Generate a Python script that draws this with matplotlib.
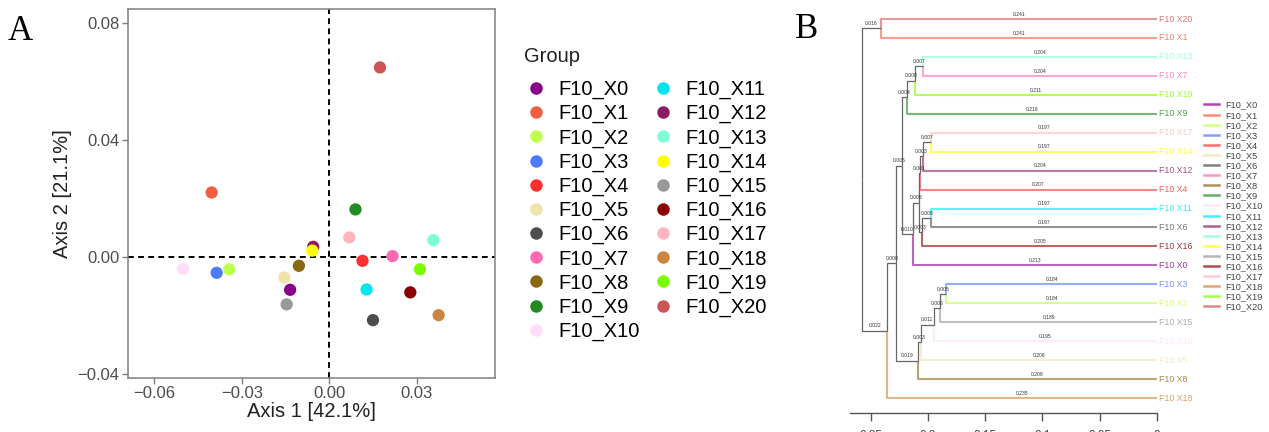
import matplotlib
matplotlib.use("Agg")
import matplotlib.pyplot as plt
from matplotlib.lines import Line2D
import numpy as np

plt.rcParams['font.family'] = ['Liberation Sans', 'DejaVu Sans']

# ---- panel A: PCoA scatter ----
groups = ['F10_X%d' % i for i in range(21)]
colors = ['#8B008B', '#EE6040', '#BFFF50', '#4C7BFF', '#FF3030', '#EEE3A8',
          '#4D4D4D', '#FF69B4', '#8B6914', '#228B22', '#FFDDF8', '#00E5EE',
          '#8B1C62', '#7FFFD4', '#FFFF00', '#999999', '#8B0000', '#FFB6C1',
          '#CD853F', '#7CFC00', '#CD5555']
axis1 = [-0.0134, -0.0403, -0.0343, -0.0386, 0.0114, -0.0154, 0.0150, 0.0217,
         -0.0104, 0.0090, -0.0501, 0.0128, -0.0055, 0.0357, -0.0058, -0.0146,
         0.0278, 0.0069, 0.0375, 0.0311, 0.0174]
axis2 = [-0.0113, 0.0220, -0.0043, -0.0055, -0.0014, -0.0071, -0.0217, 0.0002,
         -0.0031, 0.0162, -0.0041, -0.0112, 0.0034, 0.0057, 0.0021, -0.0163,
         -0.0122, 0.0066, -0.0200, -0.0043, 0.0648]

# ---- panel B: UPGMA tree ----
leaf_order = ['F10_X20', 'F10_X1', 'F10_X13', 'F10_X7', 'F10_X19', 'F10_X9',
              'F10_X17', 'F10_X14', 'F10_X12', 'F10_X4', 'F10_X11', 'F10_X6',
              'F10_X16', 'F10_X0', 'F10_X3', 'F10_X2', 'F10_X15', 'F10_X10',
              'F10_X5', 'F10_X8', 'F10_X18']
# (node, child1, child2, height)
merges = [
    ('A', 'F10_X20', 'F10_X1', 0.2412),
    ('B', 'F10_X13', 'F10_X7', 0.204),
    ('C', 'B', 'F10_X19', 0.211),
    ('D', 'C', 'F10_X9', 0.2186),
    ('E', 'F10_X17', 'F10_X14', 0.197),
    ('F', 'E', 'F10_X12', 0.204),
    ('G', 'F', 'F10_X4', 0.207),
    ('I', 'F10_X11', 'F10_X6', 0.197),
    ('J', 'I', 'F10_X16', 0.205),
    ('K', 'G', 'J', 0.208),
    ('H', 'K', 'F10_X0', 0.213),
    ('P', 'D', 'H', 0.2225),
    ('N9', 'F10_X3', 'F10_X2', 0.184),
    ('N8', 'N9', 'F10_X15', 0.189),
    ('N7', 'N8', 'F10_X10', 0.195),
    ('N6', 'N7', 'F10_X5', 0.206),
    ('N5', 'N6', 'F10_X8', 0.2086),
    ('N3', 'P', 'N5', 0.2275),
    ('R2', 'N3', 'F10_X18', 0.2354),
    ('root', 'A', 'R2', 0.2574),
]
tree_ticks = [0.25, 0.2, 0.15, 0.1, 0.05, 0]

fig = plt.figure(figsize=(12.69, 4.32), dpi=100)

ax = fig.add_axes([0.1006, 0.1257, 0.2894, 0.8528])
for i in range(len(groups)):
    ax.scatter(axis1[i], axis2[i], s=78, color=colors[i], edgecolors='none', zorder=3)
ax.axvline(0, color='black', lw=1.4, ls=(0, (3, 2.2)), zorder=2)
ax.axhline(0, color='black', lw=1.4, ls=(0, (3, 2.2)), zorder=2)
ax.set_xlim(-0.0691, 0.0568)
ax.set_ylim(-0.0414, 0.0847)
ax.set_xticks([-0.06, -0.03, 0.00, 0.03])
ax.set_xticklabels(['\u22120.06', '\u22120.03', '0.00', '0.03'])
ax.set_yticks([-0.04, 0.00, 0.04, 0.08])
ax.set_yticklabels(['\u22120.04', '0.00', '0.04', '0.08'])
for sp in ax.spines.values():
    sp.set_color('#7F7F7F')
    sp.set_linewidth(1.1)
ax.tick_params(direction='out', length=4, width=1, color='#7F7F7F',
               labelsize=12, labelcolor='#4D4D4D', pad=2)
ax.set_xlabel('Axis 1 [42.1%]', fontsize=14.5, color='#222222', labelpad=1)
ax.set_ylabel('Axis 2 [21.1%]', fontsize=14.5, color='#222222', labelpad=4)

handles = [Line2D([], [], ls='none', marker='o', markersize=9, color=c,
                  markeredgecolor='none') for c in colors]
ax.legend(handles, groups, ncol=2, frameon=False,
          loc='upper left', bbox_to_anchor=(516 / 1269, 1 - 72 / 432),
          bbox_transform=fig.transFigure, fontsize=14.5,
          handletextpad=0.5, columnspacing=0.55, labelspacing=0.245,
          handlelength=1.2, borderaxespad=0)
fig.text(524 / 1269, 1 - 57 / 432, 'Group', fontsize=14.5, color='#222222',
         ha='left', va='center')

fig.text(8 / 1269, 1 - 40 / 432, 'A', fontsize=25, family='Liberation Serif',
         va='baseline')
fig.text(795 / 1269, 1 - 38 / 432, 'B', fontsize=25, family='Liberation Serif',
         va='baseline')

# ---- dendrogram ----
bx = fig.add_axes([850 / 1269, 19 / 432, 307 / 1269, 408 / 432])
n_leaf = len(leaf_order)
bx.set_xlim(0.268, 0)
bx.set_ylim(n_leaf - 1 + 0.79, -0.74)

ypos = {name: i for i, name in enumerate(leaf_order)}
height = {name: 0.0 for name in leaf_order}
for node, c1, c2, h in merges:
    ypos[node] = (ypos[c1] + ypos[c2]) / 2
    height[node] = h

leaf_color = {g: c for g, c in zip(groups, colors)}
for node, c1, c2, h in merges:
    for ch in (c1, c2):
        if ch in leaf_color:
            col, lw, a, z = leaf_color[ch], 1.5, 0.6, 2
        else:
            col, lw, a, z = '#666666', 0.9, 1, 3
        bx.plot([h, h, height[ch]], [ypos[node], ypos[ch], ypos[ch]],
                color=col, lw=lw, alpha=a, solid_capstyle='butt', zorder=z)
        bx.text((h + height[ch]) / 2, ypos[ch] - 0.12, '%.3f' % (h - height[ch]),
                fontsize=3.6, ha='center', va='bottom', color='#333333', zorder=4)

for name in leaf_order:
    bx.text(-0.0015, ypos[name], name.replace('_', ' '), fontsize=6.3,
            color=leaf_color[name], alpha=0.8, ha='left', va='center',
            clip_on=False)

for sp in ['top', 'right', 'left']:
    bx.spines[sp].set_visible(False)
bx.spines['bottom'].set_color('#555555')
bx.spines['bottom'].set_linewidth(1)
bx.set_yticks([])
bx.set_xticks(tree_ticks)
bx.set_xticklabels(['0.25', '0.2', '0.15', '0.1', '0.05', '0'])
bx.tick_params(axis='x', direction='out', length=6, width=1, color='#555555',
               labelsize=8.5, labelcolor='#444444', pad=6)

tree_handles = [Line2D([], [], color=c, lw=1.8, alpha=0.7) for c in colors]
bx.legend(tree_handles, groups, frameon=False, loc='upper left',
          bbox_to_anchor=(1200 / 1269, 1 - 97 / 432), bbox_transform=fig.transFigure,
          fontsize=6.6, handlelength=1.7, handletextpad=0.6, labelspacing=0.12,
          borderaxespad=0, labelcolor='#444444')

fig.savefig('out.png', dpi=100)
